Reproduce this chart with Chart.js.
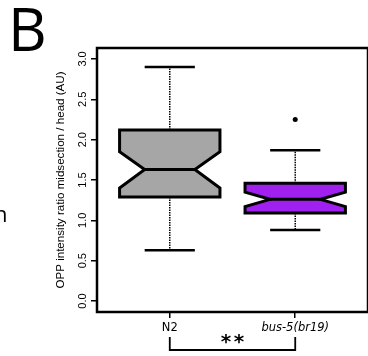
<!DOCTYPE html>
<html>
<head>
<meta charset="utf-8">
<script src="https://cdn.jsdelivr.net/npm/chart.js@4"></script>
<style>
html, body { margin: 0; padding: 0; background: #fff; overflow: hidden; }
#wrap { width: 372px; height: 356px; }
</style>
</head>
<body>
<div id="wrap"><canvas id="boxChart" width="372" height="356"></canvas></div>
<script>
// values (AU)
const categories = ['N2', 'bus-5(br19)'];
const whiskerLow = [0.63, 0.88];
const q1 = [1.29, 1.09];
const median = [1.63, 1.26];
const q3 = [2.12, 1.46];
const whiskerHigh = [2.90, 1.87];
const notchLow = [1.40, 1.17];
const notchHigh = [1.85, 1.35];
const outliers = [[], [2.25]];
const yTicks = [0, 0.5, 1, 1.5, 2, 2.5, 3];

const boxColors = ['#a6a6a6', '#a020f0'];

const outlierPoints = [];
outliers.forEach((list, i) => list.forEach(v => outlierPoints.push({ x: i + 1, y: v })));

const boxPlot = {
    id: 'boxPlot',
    beforeDatasetsDraw(chart) {
        const { ctx, scales: { x, y } } = chart;
        const unit = x.getPixelForValue(1) - x.getPixelForValue(0);
        const w = 0.4 * unit, nw = 0.2 * unit, sw = 0.2 * unit;
        const py = v => y.getPixelForValue(v);
        const line = (x1, y1, x2, y2) => {
            ctx.beginPath();
            ctx.moveTo(x1, y1);
            ctx.lineTo(x2, y2);
            ctx.stroke();
        };
        ctx.save();
        ctx.strokeStyle = '#000';
        categories.forEach((c, i) => {
            const cx = x.getPixelForValue(i + 1);
            // dashed whiskers
            ctx.lineWidth = 1.5;
            ctx.setLineDash([1.5, 1]);
            line(cx, py(q3[i]), cx, py(whiskerHigh[i]));
            line(cx, py(q1[i]), cx, py(whiskerLow[i]));
            ctx.setLineDash([]);
            // staples
            ctx.lineWidth = 2.5;
            line(cx - sw, py(whiskerHigh[i]), cx + sw, py(whiskerHigh[i]));
            line(cx - sw, py(whiskerLow[i]), cx + sw, py(whiskerLow[i]));
            // notched box
            ctx.beginPath();
            ctx.moveTo(cx - w, py(q1[i]));
            ctx.lineTo(cx - w, py(notchLow[i]));
            ctx.lineTo(cx - nw, py(median[i]));
            ctx.lineTo(cx - w, py(notchHigh[i]));
            ctx.lineTo(cx - w, py(q3[i]));
            ctx.lineTo(cx + w, py(q3[i]));
            ctx.lineTo(cx + w, py(notchHigh[i]));
            ctx.lineTo(cx + nw, py(median[i]));
            ctx.lineTo(cx + w, py(notchLow[i]));
            ctx.lineTo(cx + w, py(q1[i]));
            ctx.closePath();
            ctx.fillStyle = boxColors[i];
            ctx.fill();
            ctx.lineWidth = 3;
            ctx.lineJoin = 'miter';
            ctx.stroke();
            // median
            line(cx - nw, py(median[i]), cx + nw, py(median[i]));
        });
        ctx.restore();
    },
    afterDraw(chart) {
        const { ctx, chartArea, scales: { x } } = chart;
        ctx.save();
        // frame
        ctx.strokeStyle = '#000';
        ctx.lineWidth = 2.5;
        ctx.strokeRect(chartArea.left, chartArea.top, chartArea.right - chartArea.left, chartArea.bottom - chartArea.top);
        // panel letter and cut-off text
        ctx.fillStyle = '#000';
        ctx.textAlign = 'left';
        ctx.textBaseline = 'alphabetic';
        ctx.font = '60px "Open Sans"';
        ctx.fillText('B', 8, 51);
        ctx.font = '22px "Open Sans"';
        ctx.fillText('n', -6, 222);
        // significance bracket
        const x1 = x.getPixelForValue(1), x2 = x.getPixelForValue(2);
        ctx.lineWidth = 1.8;
        ctx.beginPath();
        ctx.moveTo(x1, 337);
        ctx.lineTo(x1, 350);
        ctx.lineTo(x2, 350);
        ctx.lineTo(x2, 337);
        ctx.stroke();
        ctx.font = 'bold 20px "DejaVu Sans"';
        ctx.textAlign = 'center';
        const mid = (x1 + x2) / 2;
        ctx.fillText('*', mid - 6.5, 348);
        ctx.fillText('*', mid + 6.5, 348);
        ctx.restore();
    }
};

const axisGrid = { drawOnChartArea: false, drawTicks: true, tickLength: 6, color: '#000', lineWidth: 1.5 };
const axisBorder = { display: true, color: '#000', width: 2 };

new Chart(document.getElementById('boxChart').getContext('2d'), {
    type: 'scatter',
    data: {
        datasets: [{
            data: outlierPoints,
            pointRadius: 2.5,
            pointBackgroundColor: '#000',
            pointBorderWidth: 0
        }]
    },
    options: {
        responsive: false,
        devicePixelRatio: 1,
        animation: false,
        layout: { padding: { top: 48, right: 2, left: 0, bottom: 0 } },
        plugins: { legend: { display: false }, tooltip: { enabled: false } },
        scales: {
            x: {
                type: 'linear',
                min: 0.42,
                max: 2.58,
                afterBuildTicks: s => { s.ticks = categories.map((c, i) => ({ value: i + 1 })); },
                afterFit: s => { s.height = 44; },
                grid: axisGrid,
                border: axisBorder,
                ticks: {
                    color: '#000',
                    padding: 3,
                    maxRotation: 0,
                    autoSkip: false,
                    callback: v => categories[v - 1],
                    font: c => ({ family: 'DejaVu Sans', size: 11.5, style: c.index === 1 ? 'italic' : 'normal' })
                }
            },
            y: {
                min: -0.136,
                max: 3.136,
                afterBuildTicks: s => { s.ticks = yTicks.map(v => ({ value: v })); },
                afterFit: s => { s.width = 97; },
                grid: axisGrid,
                border: axisBorder,
                ticks: {
                    color: '#000',
                    padding: 0,
                    minRotation: 90,
                    maxRotation: 90,
                    crossAlign: 'center',
                    callback: v => v.toFixed(1),
                    font: { family: 'Liberation Sans', size: 11 }
                },
                title: {
                    display: true,
                    text: 'OPP intensity ratio midsection / head (AU)',
                    color: '#000',
                    font: { family: 'Liberation Sans', size: 11.6 },
                    padding: { top: 54, bottom: 0 }
                }
            }
        }
    },
    plugins: [boxPlot]
});
</script>
</body>
</html>
